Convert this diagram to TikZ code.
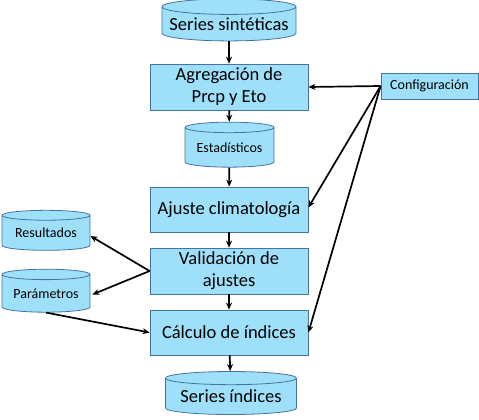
\documentclass[tikz,border=0pt]{standalone}
\usepackage{fontspec}
\setmainfont{Carlito}
\usepackage{tikz}
\usetikzlibrary{shapes.geometric,arrows.meta}

\definecolor{boxfill}{RGB}{158,224,250}
\definecolor{boxline}{RGB}{70,115,160}

\begin{document}
\begin{tikzpicture}[x=1pt, y=1pt,
	every node/.style={fill=boxfill, draw=boxline, line width=0.8pt, inner sep=0pt, align=center},
	proc/.style={rectangle, minimum width=158, minimum height=46, font=\fontsize{18.5}{22}\selectfont},
	datos/.style={cylinder, shape border rotate=90, aspect=0.13, font=\fontsize{18.5}{22}\selectfont},
	datsmall/.style={datos, aspect=0.16, font=\fontsize{14}{16}\selectfont},
	flecha/.style={-{Stealth[length=7pt,width=6pt]}, line width=1.7pt}]
	\useasboundingbox (0,0) rectangle (479,-420);
	% columna central
	\node[datos, minimum width=134, minimum height=42] (series) at (229,-24) {Series sintéticas};
	\node[proc] (agreg) at (229,-87) {Agregación de\\Prcp y Eto};
	\node[datsmall, minimum width=89, minimum height=45] (estad) at (229.5,-147.5) {Estadísticos};
	\node[proc, minimum height=45] (ajuste) at (229,-209.5) {Ajuste climatología};
	\node[proc] (valid) at (229,-271) {Validación de\\ajustes};
	\node[proc, minimum height=45] (calculo) at (229,-332.5) {Cálculo de índices};
	\node[datos, minimum width=131, minimum height=43] (indices) at (231,-396.5) {Series índices};
	% laterales
	\node[proc, minimum width=97, minimum height=26, font=\fontsize{14}{16}\selectfont] (config) at (429.5,-86) {Configuración};
	\node[datsmall, minimum width=88, minimum height=40] (result) at (46,-233) {Resultados};
	\node[datsmall, minimum width=88, minimum height=43] (param) at (46,-293.5) {Parámetros};
	% flechas
	\draw[flecha] (series) -- (agreg);
	\draw[flecha] (agreg) -- (estad);
	\draw[flecha] (estad) -- (ajuste);
	\draw[flecha] (ajuste) -- (valid);
	\draw[flecha] (valid) -- (calculo);
	\draw[flecha] (calculo) -- (indices);
	\draw[flecha] (config.west) -- (agreg.east);
	\draw[flecha] (config.west) -- ([yshift=2]ajuste.east);
	\draw[flecha] (config.west) -- (calculo.east);
	\draw[flecha] (valid.west) -- ([yshift=-3]result.east);
	\draw[flecha] (valid.west) -- ([xshift=2,yshift=-1]param.east);
	\draw[flecha] (param.south) -- (calculo.west);
\end{tikzpicture}
\end{document}
